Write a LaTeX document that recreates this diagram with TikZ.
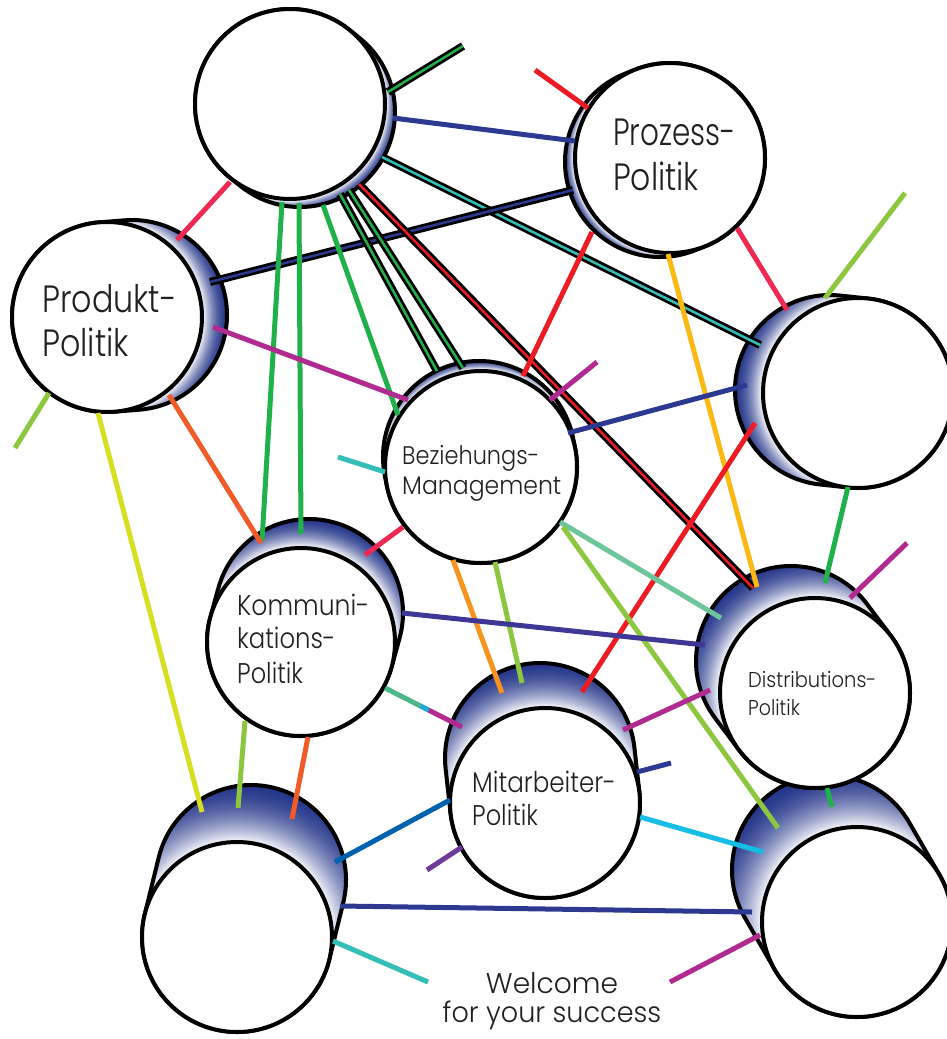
\documentclass[tikz,border=0pt]{standalone}
\usepackage{fontspec}
\IfFontExistsTF{Poppins Light}{\setmainfont{Poppins Light}[FakeStretch=0.88]}{\setmainfont{Poppins}[FakeStretch=0.88]}
\usetikzlibrary{calc}
\definecolor{cyldark}{RGB}{36,54,138}
\definecolor{txt}{RGB}{35,31,32}
\definecolor{cCrimson}{HTML}{EE2A54}
\definecolor{cRed}{HTML}{ED1C24}
\definecolor{cBlue}{HTML}{2B3990}
\definecolor{cGreen}{HTML}{20B14B}
\definecolor{cYGreen}{HTML}{8DC63F}
\definecolor{cLime}{HTML}{D7DF23}
\definecolor{cOrRed}{HTML}{F15A29}
\definecolor{cOrange}{HTML}{F7941D}
\definecolor{cGold}{HTML}{FDB913}
\definecolor{cMagenta}{HTML}{B12A90}
\definecolor{cTeal}{HTML}{33BEB7}
\definecolor{cSea}{HTML}{6CC59B}
\definecolor{cIndigo}{HTML}{3E3795}
\definecolor{cMBlue}{HTML}{0061AF}
\definecolor{cPurple}{HTML}{6F3996}
\definecolor{cCyan}{HTML}{16BDE5}
\definecolor{cGradA}{HTML}{4CB88A}
\definecolor{cGradB}{HTML}{20A8D8}

\tikzset{
  frontface/.style={circle, draw=black, fill=white, line width=4pt, inner sep=0pt},
  lbl/.style={anchor=base west, inner sep=0pt, text=txt},
  conn/.style={line width=5pt, draw=#1},
  dconn/.style={draw=black, line width=2.75pt, double=#1, double distance=2.5pt},
}
\newcommand\hs[2]{\scalebox{#1}[1]{#2}}

\newcommand\cylinder[6]{%
  \pgfmathsetmacro\cyphi{atan2(#6,#5)}%
  \pgfmathsetmacro\cylen{veclen(#5,#6)}%
  \pgfmathsetmacro\cynx{-(#5)}%
  \pgfmathsetmacro\cyny{-(#6)}%
  \pgfmathsetmacro\cya{\cyphi+90}%
  \pgfmathsetmacro\cyb{\cyphi-90}%
  \pgfmathsetmacro\cyc{\cyphi-270}%
  \pgfmathsetmacro\cydiam{2*#4}%
  \begin{scope}
    \clip (#2,#3) ++(\cya:#4) -- ++(#5,#6) arc[start angle=\cya, end angle=\cyb, radius=#4] -- ++(\cynx,\cyny) arc[start angle=\cyb, end angle=\cyc, radius=#4] -- cycle;
    \foreach \k in {0,...,40}{
      \pgfmathsetmacro\cyrad{#4+2+\cylen*(1-\k/40)}
      \pgfmathsetmacro\cymix{93*(\k/40)^1.8}
      \fill[white!\cymix!cyldark] (#2,#3) circle[radius=\cyrad];
    }
  \end{scope}
  \draw[line width=4pt, line join=round] (#2,#3) ++(\cya:#4) -- ++(#5,#6) arc[start angle=\cya, end angle=\cyb, radius=#4] -- ++(\cynx,\cyny) arc[start angle=\cyb, end angle=\cyc, radius=#4] -- cycle;
  \node[frontface, minimum size=\cydiam pt] (#1) at (#2,#3) {};
}

\begin{document}
\begin{tikzpicture}[x=1pt,y=1pt,yscale=-1]
\useasboundingbox[fill=white] (0,0) rectangle (947,1039);

% cylinders
\cylinder{T}{290}{104}{95}{10}{8}
\cylinder{PZ}{670}{158}{95}{-10}{4}
\cylinder{PD}{107}{317}{95}{25}{-2}
\cylinder{R}{858}{393}{95}{-28}{-3}
\cylinder{BZ}{481}{467}{96}{-2}{-10}
\cylinder{KO}{301}{642}{94}{8}{-29}
\cylinder{BR}{857}{922}{95}{-30}{-52}
\cylinder{DI}{815}{693}{95}{-24}{-32}
\cylinder{MA}{545}{803}{95}{-5}{-45}
\cylinder{BL}{237}{937}{95}{14}{-57}

% connector end points
\coordinate (a1) at (388,92);   \coordinate (b1) at (463,46);
\coordinate (a2) at (393,118);  \coordinate (b2) at (575,141);
\coordinate (a3) at (382,157);  \coordinate (b3) at (760,345);
\coordinate (a4) at (210,282);  \coordinate (b4) at (573,190);
\coordinate (a5) at (230,182);  \coordinate (b5) at (177,240);
\coordinate (a6) at (282,202);  \coordinate (b6) at (262,541);
\coordinate (a7) at (299,203);  \coordinate (b7) at (301,534);
\coordinate (a8) at (323,205);  \coordinate (b8) at (398,415);
\coordinate (a9) at (340,194);  \coordinate (b9) at (437,371);
\coordinate (a10) at (349,190); \coordinate (b10) at (463,368);
\coordinate (a11) at (359,184); \coordinate (b11) at (753,588);
\coordinate (a12) at (535,70);  \coordinate (b12) at (588,108);
\coordinate (a13) at (592,232); \coordinate (b13) at (523,376);
\coordinate (a14) at (668,254); \coordinate (b14) at (757,587);
\coordinate (a15) at (737,228); \coordinate (b15) at (787,310);
\coordinate (a16) at (825,298); \coordinate (b16) at (905,193);
\coordinate (a17) at (747,385); \coordinate (b17) at (568,433);
\coordinate (a18) at (755,423); \coordinate (b18) at (582,692);
\coordinate (a19) at (848,487); \coordinate (b19) at (825,583);
\coordinate (a20) at (213,327); \coordinate (b20) at (408,400);
\coordinate (a21) at (550,400); \coordinate (b21) at (597,362);
\coordinate (a22) at (338,457); \coordinate (b22) at (385,472);
\coordinate (a23) at (403,527); \coordinate (b23) at (365,555);
\coordinate (a24) at (453,560); \coordinate (b24) at (502,693);
\coordinate (a25) at (495,562); \coordinate (b25) at (522,683);
\coordinate (a26) at (560,522); \coordinate (b26) at (721,618);
\coordinate (a27) at (563,527); \coordinate (b27) at (778,828);
\coordinate (a28) at (15,448);  \coordinate (b28) at (49,393);
\coordinate (a29) at (98,413);  \coordinate (b29) at (202,812);
\coordinate (a30) at (169,395); \coordinate (b30) at (261,543);
\coordinate (a31) at (402,613); \coordinate (b31) at (705,645);
\coordinate (a32) at (385,688); \coordinate (b32) at (462,727);
\coordinate (a33) at (245,721); \coordinate (b33) at (238,808);
\coordinate (a34) at (308,737); \coordinate (b34) at (292,819);
\coordinate (a35) at (335,862); \coordinate (b35) at (450,800);
\coordinate (a36) at (427,870); \coordinate (b36) at (462,847);
\coordinate (a37) at (623,730); \coordinate (b37) at (710,690);
\coordinate (a38) at (637,772); \coordinate (b38) at (671,763);
\coordinate (a39) at (640,817); \coordinate (b39) at (763,852);
\coordinate (a40) at (340,906); \coordinate (b40) at (752,912);
\coordinate (a41) at (333,941); \coordinate (b41) at (428,982);
\coordinate (a42) at (670,982); \coordinate (b42) at (760,935);
\coordinate (a43) at (827,788); \coordinate (b43) at (832,807);
\coordinate (a44) at (850,598); \coordinate (b44) at (907,543);

% connectors
\draw[dconn=cGreen] (a1) -- (b1);
\draw[conn=cBlue] (a2) -- (b2);
\draw[dconn=cTeal] (a3) -- (b3);
\draw[dconn=cBlue] (a4) -- (b4);
\draw[conn=cCrimson] (a5) -- (b5);
\draw[conn=cGreen] (a6) -- (b6);
\draw[conn=cGreen] (a7) -- (b7);
\draw[conn=cGreen] (a8) -- (b8);
\draw[dconn=cGreen] (a9) -- (b9);
\draw[dconn=cGreen] (a10) -- (b10);
\draw[dconn=cRed] (a11) -- (b11);
\draw[conn=cRed] (a12) -- (b12);
\draw[conn=cRed] (a13) -- (b13);
\draw[conn=cGold] (a14) -- (b14);
\draw[conn=cCrimson] (a15) -- (b15);
\draw[conn=cYGreen] (a16) -- (b16);
\draw[conn=cBlue] (a17) -- (b17);
\draw[conn=cRed] (a18) -- (b18);
\draw[conn=cGreen] (a19) -- (b19);
\draw[conn=cMagenta] (a20) -- (b20);
\draw[conn=cMagenta] (a21) -- (b21);
\draw[conn=cTeal] (a22) -- (b22);
\draw[conn=cCrimson] (a23) -- (b23);
\draw[conn=cOrange] (a24) -- (b24);
\draw[conn=cYGreen] (a25) -- (b25);
\draw[conn=cSea] (a26) -- (b26);
\draw[conn=cYGreen] (a27) -- (b27);
\draw[conn=cYGreen] (a28) -- (b28);
\draw[conn=cLime] (a29) -- (b29);
\draw[conn=cOrRed] (a30) -- (b30);
\draw[conn=cIndigo] (a31) -- (b31);
\draw[conn=cGradA] (a32) -- ($(a32)!0.47!(b32)$);
\draw[conn=cGradB] ($(a32)!0.46!(b32)$) -- ($(a32)!0.58!(b32)$);
\draw[conn=cMagenta] ($(a32)!0.57!(b32)$) -- (b32);
\draw[conn=cYGreen] (a33) -- (b33);
\draw[conn=cOrRed] (a34) -- (b34);
\draw[conn=cMBlue] (a35) -- (b35);
\draw[conn=cPurple] (a36) -- (b36);
\draw[conn=cMagenta] (a37) -- (b37);
\draw[conn=cBlue] (a38) -- (b38);
\draw[conn=cCyan] (a39) -- (b39);
\draw[conn=cBlue] (a40) -- (b40);
\draw[conn=cTeal] (a41) -- (b41);
\draw[conn=cMagenta] (a42) -- (b42);
\draw[conn=cGreen] (a43) -- (b43);
\draw[conn=cMagenta] (a44) -- (b44);

% labels
\node[lbl, font=\fontsize{38}{44}\selectfont] (pz1) at (613,145) {\hs{0.88}{Prozess-}};
\node[lbl, font=\fontsize{38}{44}\selectfont] (pz2) at (613,190) {\hs{0.94}{Politik}};
\node[lbl, font=\fontsize{38}{44}\selectfont] (pd1) at (42,312) {\hs{0.95}{Produkt-}};
\node[lbl, font=\fontsize{38}{44}\selectfont] (pd2) at (42,356) {\hs{0.95}{Politik}};
\node[lbl, font=\fontsize{25.5}{30}\selectfont] (bz1) at (402,464) {Beziehungs-};
\node[lbl, font=\fontsize{25.5}{30}\selectfont] (bz2) at (402,494) {\hs{1.05}{Management}};
\node[lbl, font=\fontsize{28.5}{34}\selectfont] (ko1) at (237,615) {Kommuni-};
\node[lbl, font=\fontsize{28.5}{34}\selectfont] (ko2) at (237,648) {\hs{0.97}{kations-}};
\node[lbl, font=\fontsize{28.5}{34}\selectfont] (ko3) at (237,683) {\hs{0.96}{Politik}};
\node[lbl, font=\fontsize{28.5}{34}\selectfont] (ma1) at (472,792) {\hs{0.98}{Mitarbeiter-}};
\node[lbl, font=\fontsize{28.5}{34}\selectfont] (ma2) at (472,825) {\hs{0.96}{Politik}};
\node[lbl, font=\fontsize{21.5}{28}\selectfont] (di1) at (748,687) {\hs{1.03}{Distributions-}};
\node[lbl, font=\fontsize{21.5}{28}\selectfont] (di2) at (748,715) {Politik};
\node[anchor=base, inner sep=0pt, text=txt, font=\fontsize{28.5}{30}\selectfont] (w1) at (552,993) {\hs{1.12}{Welcome}};
\node[anchor=base, inner sep=0pt, text=txt, font=\fontsize{28.5}{30}\selectfont] (w2) at (552,1022) {\hs{1.08}{for your success}};
\end{tikzpicture}
\end{document}
